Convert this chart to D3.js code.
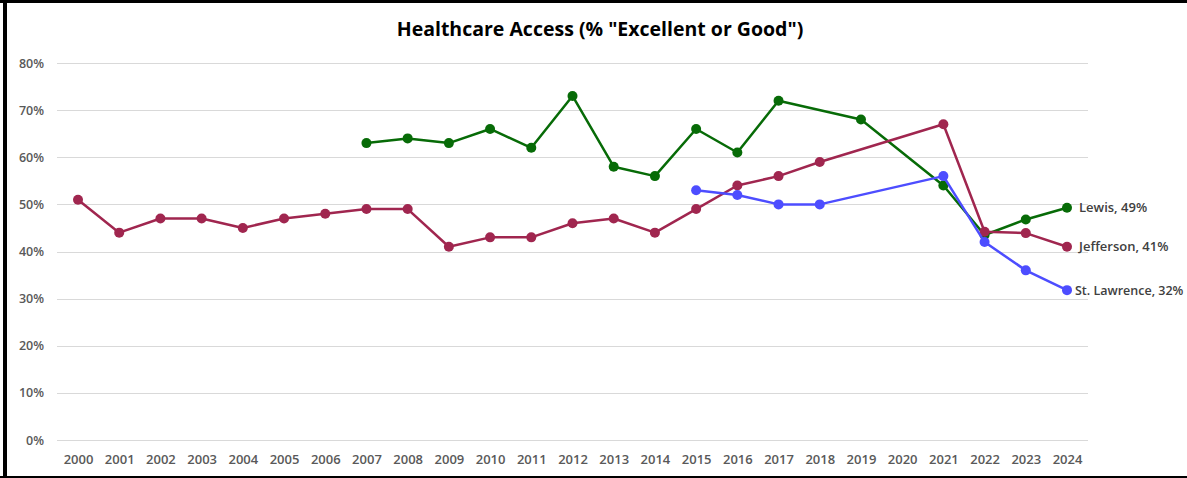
<!DOCTYPE html>
<html><head><meta charset="utf-8">
<script src="https://cdn.jsdelivr.net/npm/d3@7"></script>
<style>
body{margin:0;background:#fff;}
svg{display:block;}
</style></head>
<body><svg id="c" width="1187" height="478"></svg>
<script>
const years = d3.range(2000, 2025).map(String);
const yTicks = [0, 0.1, 0.2, 0.3, 0.4, 0.5, 0.6, 0.7, 0.8];
const jefferson = [51,44,47,47,45,47,48,49,49,41,43,43,46,47,44,49,54,56,59,null,null,67,44.2,43.9,41.0];
const lewis = [null,null,null,null,null,null,null,63,64,63,66,62,73,58,56,66,61,72,null,68,null,54,43.5,46.8,49.3];
const stLawrence = [null,null,null,null,null,null,null,null,null,null,null,null,null,null,null,53,52,50,50,null,null,56,42,36,31.8];
const seriesNames = ["Lewis", "Jefferson", "St. Lawrence"];
const endLabels = ["Lewis, 49%", "Jefferson, 41%", "St. Lawrence, 32%"];
const labelGap = [12, 12, 8];
const colors = ["#076B07", "#A0264F", "#4D4DFF"];
const title = 'Healthcare Access (% "Excellent or Good")';

const series = [lewis, jefferson, stLawrence];
const svg = d3.select("#c");
const W = 1187, H = 478;

svg.append("rect").attr("x",0).attr("y",0).attr("width",W).attr("height",H).attr("fill","#fff");

const x = d3.scalePoint().domain(years).range([78, 1067]);
const y = d3.scaleLinear().domain([0, 0.8]).range([440, 63]);

// gridlines
svg.append("g").selectAll("line").data(yTicks).join("line")
  .attr("x1", 57).attr("x2", 1088)
  .attr("y1", d => Math.round(y(d)) + 0.5).attr("y2", d => Math.round(y(d)) + 0.5)
  .attr("stroke", "#d9d9d9").attr("stroke-width", 1);

// y axis labels
const yAxis = d3.axisLeft(y).tickValues(yTicks).tickFormat(d3.format(".0%")).tickSize(0).tickPadding(0);
const yg = svg.append("g").attr("transform", "translate(44,0)").call(yAxis);
yg.select(".domain").remove();
yg.selectAll("text").attr("font-family", "'Open Sans', sans-serif").attr("font-size", 12.5)
  .attr("font-weight", 600).attr("fill", "#595959");

// x axis labels
const xAxis = d3.axisBottom(x).tickSize(0).tickPadding(0);
const xg = svg.append("g").attr("transform", "translate(0,455)").call(xAxis);
xg.select(".domain").remove();
xg.selectAll("text").attr("font-family", "'Open Sans', sans-serif").attr("font-size", 13)
  .attr("font-weight", 600).attr("fill", "#595959");

// lines
const line = d3.line().x(d => x(d.year)).y(d => y(d.v / 100));
series.forEach((s, i) => {
  const pts = years.map((yr, j) => ({year: yr, v: s[j]})).filter(d => d.v != null);
  const g = svg.append("g");
  g.append("path").attr("d", line(pts)).attr("fill", "none")
    .attr("stroke", colors[i]).attr("stroke-width", 2.5).attr("stroke-linejoin", "round");
  g.selectAll("circle").data(pts).join("circle")
    .attr("cx", d => x(d.year)).attr("cy", d => y(d.v / 100)).attr("r", 5)
    .attr("fill", colors[i]);
  const last = pts[pts.length - 1];
  g.append("text").attr("x", x(last.year) + labelGap[i]).attr("y", y(last.v / 100)).attr("dy", "0.35em")
    .attr("font-family", "'Open Sans', sans-serif").attr("font-size", i === 2 ? 12.5 : 13).attr("font-weight", 600)
    .attr("fill", "#404040").text(endLabels[i]);
});

// title
svg.append("text").attr("x", 600).attr("y", 36).attr("text-anchor", "middle")
  .attr("font-family", "'Open Sans', sans-serif").attr("font-size", 19.5).attr("font-weight", 700)
  .attr("fill", "#000").text(title);

// border
svg.append("rect").attr("x", 0).attr("y", 0).attr("width", W).attr("height", 3).attr("fill", "#000");
svg.append("rect").attr("x", 3).attr("y", 0).attr("width", 4).attr("height", H).attr("fill", "#000");
svg.append("rect").attr("x", 0).attr("y", 476).attr("width", W).attr("height", 2).attr("fill", "#000");
</script></body></html>
